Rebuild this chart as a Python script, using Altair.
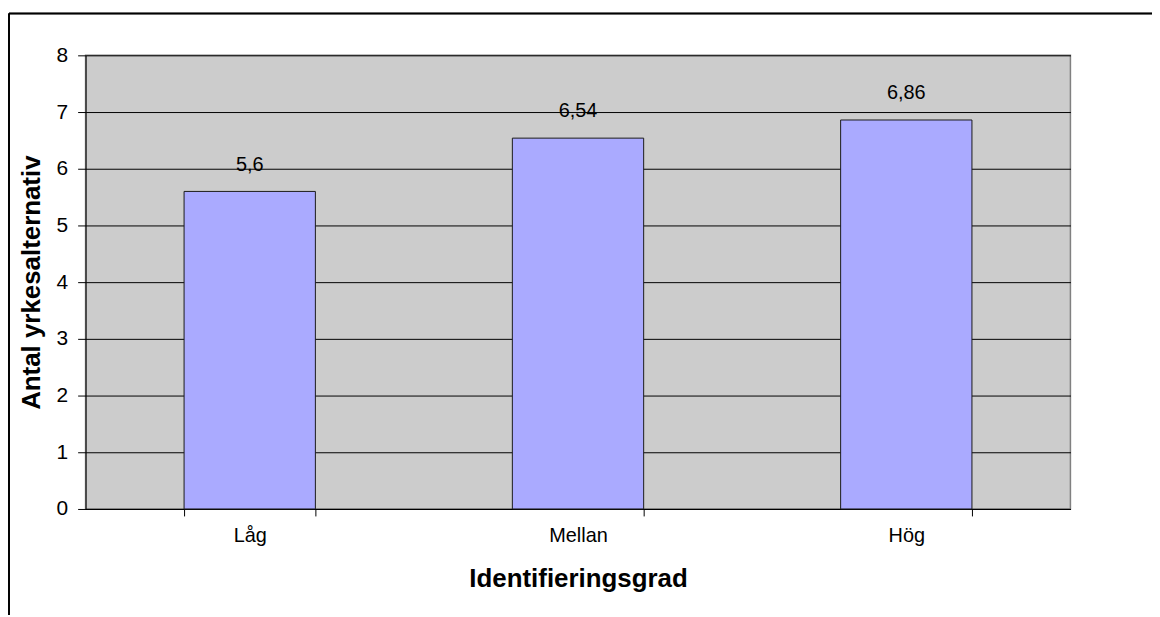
import altair as alt
import pandas as pd

categories = ["Låg", "Mellan", "Hög"]
values = [5.6, 6.54, 6.86]
y_ticks = [0, 1, 2, 3, 4, 5, 6, 7, 8]

df = pd.DataFrame({"grad": categories, "antal": values})

FONT = "Liberation Sans"

x_enc = alt.X("grad:N", sort=categories, title="Identifieringsgrad",
              scale=alt.Scale(paddingInner=0.6, paddingOuter=0.3),
              axis=alt.Axis(labelAngle=0, tickBand="extent", domainColor="#000",
                            tickColor="#000", tickSize=7, labelPadding=10,
                            labelFontSize=20, labelColor="#000", labelFont=FONT,
                            titleFont=FONT, titleFontSize=26, titleFontWeight="bold",
                            titleColor="#000", titlePadding=20))
y_enc = alt.Y("antal:Q", title="Antal yrkesalternativ",
              scale=alt.Scale(domain=[0, 8], nice=False),
              axis=alt.Axis(values=y_ticks, format="d", grid=True,
                            gridColor="#000", gridOpacity=1, gridWidth=1,
                            domainColor="#000", tickColor="#000", tickSize=8,
                            labelPadding=10, labelFontSize=21, labelColor="#000",
                            labelFont=FONT, titleFont=FONT, titleFontSize=26,
                            titleFontWeight="bold", titleColor="#000", titlePadding=12))

bars = alt.Chart(df).mark_bar(color="#AAAAFF", stroke="#1a1a1a", strokeWidth=1).encode(
    x=x_enc, y=y_enc)

labels = alt.Chart(df).transform_calculate(
    lbl="replace(toString(datum.antal), '.', ',')"
).mark_text(dy=-27, fontSize=20, font=FONT, color="#000").encode(
    x=alt.X("grad:N", sort=categories), y="antal:Q", text="lbl:N")

frame_top = alt.Chart(df).mark_rule(color="#000", strokeWidth=1.5).encode(
    x=alt.value(-77), x2=alt.value(1080), y=alt.value(-42))
frame_left = alt.Chart(df).mark_rule(color="#000", strokeWidth=1.5).encode(
    x=alt.value(-77), y=alt.value(-42), y2=alt.value(580))

chart = alt.layer(bars, labels, frame_top, frame_left).properties(
    width=990, height=456,
    autosize=alt.AutoSizeParams(type="none"),
    padding={"left": 78, "top": 46, "right": 82, "bottom": 105},
    background="white",
).configure_view(fill="#CCCCCC", stroke="#808080", strokeWidth=1.5)

chart.save("out.html", embed_options={"renderer": "svg", "actions": False})
